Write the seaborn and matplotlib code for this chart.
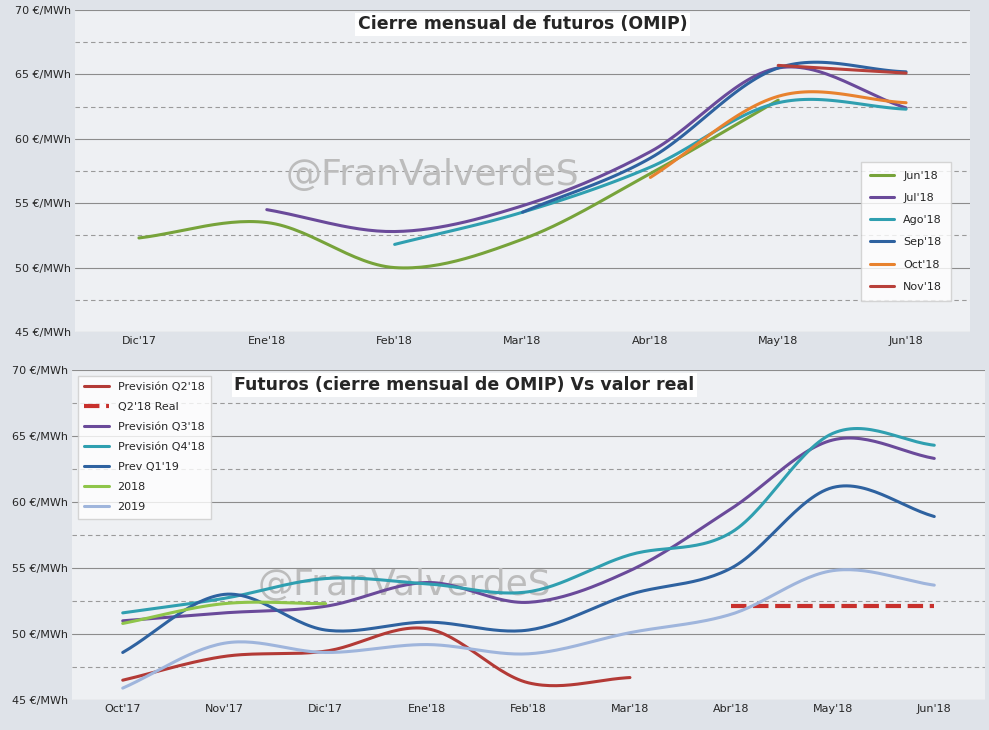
import numpy as np
import matplotlib
matplotlib.use("Agg")
import matplotlib.pyplot as plt
import seaborn as sns

sns.set_theme(style="white")
plt.rcParams['font.family'] = ['DejaVu Sans']

top_months = ["Dic'17", "Ene'18", "Feb'18", "Mar'18", "Abr'18", "May'18", "Jun'18"]
jun18 = [52.3, 53.5, 50.0, 52.2, 57.3, 63.0, None]
jul18 = [None, 54.5, 52.8, 54.8, 59.0, 65.5, 62.4]
ago18 = [None, None, 51.8, 54.3, 57.8, 62.8, 62.3]
sep18 = [None, None, None, 54.3, 58.5, 65.5, 65.2]
oct18 = [None, None, None, None, 57.0, 63.3, 62.8]
nov18 = [None, None, None, None, None, 65.7, 65.1]

bot_months = ["Oct'17", "Nov'17", "Dic'17", "Ene'18", "Feb'18", "Mar'18", "Abr'18", "May'18", "Jun'18"]
q2_18 = [46.5, 48.3, 48.7, 50.4, 46.3, 46.7, None, None, None]
q2_real = [None, None, None, None, None, None, 52.1, 52.1, 52.1]
q3_18 = [51.0, 51.6, 52.1, 53.9, 52.4, 54.8, 59.5, 64.7, 63.3]
q4_18 = [51.6, 52.7, 54.2, 53.8, 53.2, 56.0, 57.7, 65.2, 64.3]
q1_19 = [48.6, 53.0, 50.3, 50.9, 50.3, 53.0, 55.0, 61.1, 58.9]
y2018 = [50.8, 52.3, 52.3, None, None, None, None, None, None]
y2019 = [45.9, 49.3, 48.6, 49.2, 48.5, 50.1, 51.5, 54.8, 53.7]


def smooth(vals):
    idx = [i for i, v in enumerate(vals) if v is not None]
    x = np.array(idx, float)
    y = np.array([vals[i] for i in idx], float)
    if len(x) < 3:
        return x, y
    m = np.gradient(y, x)
    xs, ys = [], []
    for i in range(len(x) - 1):
        t = np.linspace(0, 1, 30)
        h = x[i + 1] - x[i]
        h00 = 2*t**3 - 3*t**2 + 1; h10 = t**3 - 2*t**2 + t
        h01 = -2*t**3 + 3*t**2; h11 = t**3 - t**2
        xs.append(x[i] + t*h)
        ys.append(h00*y[i] + h10*h*m[i] + h01*y[i+1] + h11*h*m[i+1])
    return np.concatenate(xs), np.concatenate(ys)


fig = plt.figure(figsize=(9.89, 7.3), dpi=100)
fig.patch.set_facecolor('#dfe3e9')
ax1 = fig.add_axes([75/989, 1-332/730, 895/989, 322/730])
ax2 = fig.add_axes([72/989, 1-700/730, 913/989, 330/730])


def style(ax, months):
    ax.set_facecolor('#eef0f3')
    ax.set_ylim(45, 70)
    ax.set_xlim(-0.5, len(months) - 0.5)
    ax.set_xticks(range(len(months)))
    ax.set_xticklabels(months, fontsize=8)
    ax.set_yticks(range(45, 71, 5))
    ax.set_yticklabels([f"{v} €/MWh" for v in range(45, 71, 5)], fontsize=8)
    for v in range(45, 71, 5):
        ax.axhline(v, color='#8c8c8c', lw=0.8, zorder=0)
    for v in np.arange(47.5, 70, 5):
        ax.axhline(v, color='#9a9a9a', lw=0.8, ls=(0, (4, 3)), zorder=0)
    for s in ax.spines.values():
        s.set_visible(False)
    ax.tick_params(length=0, pad=3)


style(ax1, top_months)
style(ax2, bot_months)
ax1.text(1.15, 57.2, "@FranValverdeS", fontsize=26, color='#bcbcbc', va='center', zorder=0.5)
ax2.text(1.33, 53.7, "@FranValverdeS", fontsize=26, color='#bcbcbc', va='center', zorder=0.5)

top_series = [("Jun'18", jun18, '#77a33a'), ("Jul'18", jul18, '#6a4a9a'),
              ("Ago'18", ago18, '#2f9fb0'), ("Sep'18", sep18, '#2e62a0'),
              ("Oct'18", oct18, '#e8822e'), ("Nov'18", nov18, '#b8403a')]
for name, vals, c in top_series:
    x, y = smooth(vals)
    ax1.plot(x, y, color=c, lw=2.2, label=name)
ax1.legend(loc='lower right', bbox_to_anchor=(0.985, 0.08), fontsize=8, frameon=True,
           facecolor='white', edgecolor='#cccccc', fancybox=False, labelspacing=1.1,
           handlelength=2.2, borderpad=0.8)
ax1.text(0.5, 0.955, "Cierre mensual de futuros (OMIP)", transform=ax1.transAxes, ha='center',
         va='center', fontsize=12.5, fontweight='semibold',
         bbox=dict(facecolor='white', edgecolor='none', pad=2))

bot_series = [("Previsión Q2'18", q2_18, '#b33a36', '-', 2.2),
              ("Q2'18 Real", q2_real, '#c8302c', '--', 3),
              ("Previsión Q3'18", q3_18, '#6a4a9a', '-', 2.2),
              ("Previsión Q4'18", q4_18, '#2f9fb0', '-', 2.2),
              ("Prev Q1'19", q1_19, '#2e62a0', '-', 2.2),
              ("2018", y2018, '#8fc54a', '-', 2.2),
              ("2019", y2019, '#9fb5dc', '-', 2.2)]
for name, vals, c, ls, lw in bot_series:
    if ls == '--':
        idx = [i for i, v in enumerate(vals) if v is not None]
        sns.lineplot(x=idx, y=[vals[i] for i in idx], ax=ax2, color=c, lw=lw,
                     linestyle='--', label=name)
    else:
        x, y = smooth(vals)
        ax2.plot(x, y, color=c, lw=lw, label=name)
ax2.legend(loc='upper left', bbox_to_anchor=(0.0, 1.0), fontsize=8, frameon=True,
           facecolor='white', edgecolor='#cccccc', fancybox=False, labelspacing=0.9,
           handlelength=2.2, borderpad=0.6)
ax2.set_xlabel(''); ax2.set_ylabel('')
ax2.text(0.43, 0.955, "Futuros (cierre mensual de OMIP) Vs valor real", transform=ax2.transAxes,
         ha='center', va='center', fontsize=12.5, fontweight='semibold',
         bbox=dict(facecolor='white', edgecolor='none', pad=2))

fig.savefig("out.png", dpi=100)
